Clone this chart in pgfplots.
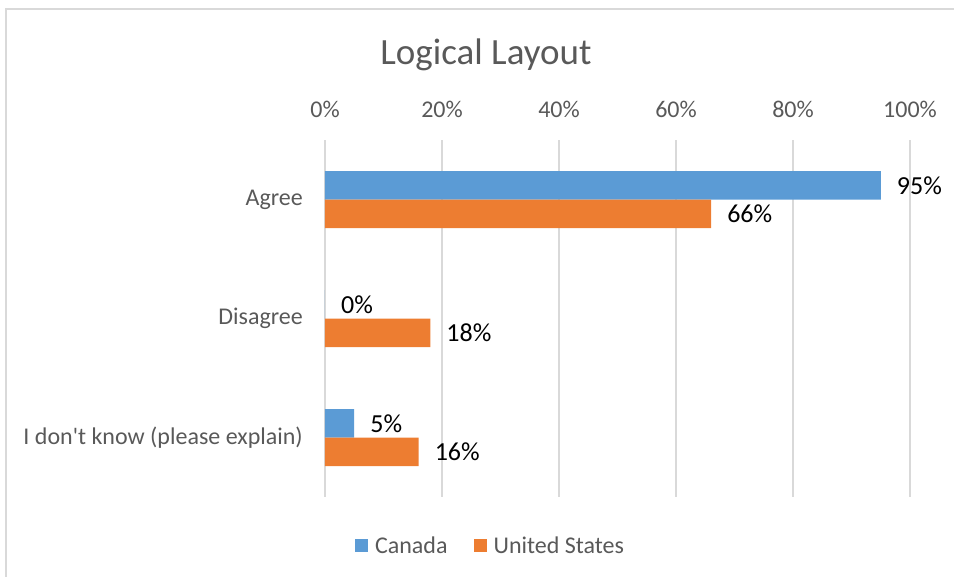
\documentclass[border=0pt]{standalone}
\usepackage{pgfplots}
\pgfplotsset{compat=1.18}
\usepackage{fontspec}
\setmainfont{Carlito}
\definecolor{cblue}{HTML}{5B9BD5}
\definecolor{corange}{HTML}{ED7D31}
\definecolor{gridc}{HTML}{D9D9D9}
\definecolor{txt}{HTML}{595959}
\begin{document}
\begin{tikzpicture}[x=1pt,y=1pt]
\useasboundingbox (0,0) rectangle (954,-577);
\draw[gridc, line width=2pt] (5.5,-578) -- (5.5,-9) -- (955,-9);
\node[txt, font=\fontsize{37}{44}\selectfont] at (486,-55) {Logical Layout};
\begin{axis}[
  at={(325pt,-497pt)}, anchor=south west,
  scale only axis, width=585pt, height=357pt,
  xbar, bar width=28.5pt,
  xmin=0, xmax=100, ymin=-0.5, ymax=2.5, y dir=reverse,
  ytick={0,1,2}, yticklabels={Agree,Disagree,I don\textquotesingle t know (please explain)},
  xtick={0,20,...,100},
  xticklabel={\pgfmathprintnumber{\tick}\%},
  xticklabel pos=upper,
  /pgf/number format/assume math mode=true,
  axis line style={draw=none}, major tick length=0pt,
  xmajorgrids, ymajorgrids=false,
  major grid style={gridc, line width=1.5pt},
  tick label style={txt, font=\fontsize{24}{28}\selectfont},
  xticklabel style={anchor=base, inner sep=0pt, yshift=22.5pt},
  yticklabel style={anchor=east, inner sep=0pt, xshift=-22pt},
  nodes near coords={\pgfmathprintnumber{\pgfplotspointmeta}\%},
  point meta=x,
  every node near coord/.append style={black, font=\fontsize{26}{30}\selectfont, anchor=west, inner sep=0pt, xshift=16pt},
  legend columns=2,
  legend style={draw=none, fill=none, at={(axis description cs:0.283,-0.137)}, anchor=center,
    font=\fontsize{24}{28}\selectfont, text=txt,
    /tikz/every odd column/.append style={column sep=5pt},
    /tikz/every even column/.append style={column sep=24pt}},
  legend cell align=left,
  legend image code/.code={\fill[#1] (0pt,-6.5pt) rectangle (13pt,6.5pt);},
]
\addplot[fill=cblue, draw=none, bar shift=14.25pt] coordinates {(95,0) (0,1) (5,2)};
\addplot[fill=corange, draw=none, bar shift=-14.25pt] coordinates {(66,0) (18,1) (16,2)};
\legend{Canada, United States}
\end{axis}
\end{tikzpicture}
\end{document}
